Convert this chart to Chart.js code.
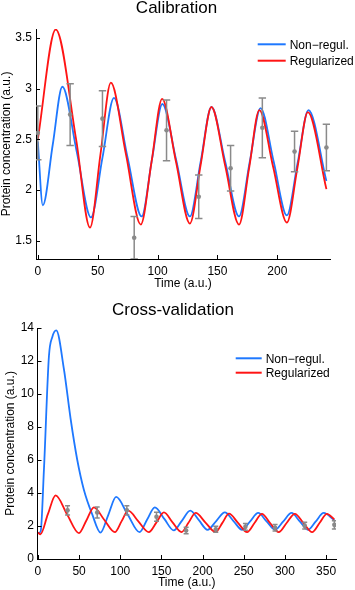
<!DOCTYPE html>
<html>
<head>
<meta charset="utf-8">
<script src="https://cdn.jsdelivr.net/npm/chart.js@4.4.1/dist/chart.umd.min.js"></script>
<style>
  html, body { margin: 0; padding: 0; background: #fff; }
  #wrap { position: relative; width: 355px; height: 590px; }
  canvas { position: absolute; left: 0; }
</style>
</head>
<body>
<div id="wrap">
  <canvas id="calChart" width="355" height="295" style="top:0"></canvas>
  <canvas id="cvChart" width="355" height="295" style="top:295px"></canvas>
</div>
<script>
// ---- Calibration panel ----
const calNonRegT = [0, 4.2, 12.5, 20.5, 32.5, 44.4, 54, 63.6, 75, 86.7, 95.3, 104, 115.5, 127, 136, 145, 156.5, 168, 177, 186, 197, 208, 217, 226, 241];
const calNonReg  = [2.48, 1.85, 2.45, 3.02, 2.38, 1.73, 2.32, 2.91, 2.32, 1.74, 2.3, 2.85, 2.3, 1.74, 2.28, 2.82, 2.28, 1.74, 2.28, 2.81, 2.28, 1.75, 2.27, 2.79, 2.09];
const calRegT = [0, 15, 32, 43.6, 52.3, 61, 73.5, 86, 95, 103.8, 115.4, 127, 136, 145, 156.5, 168, 176.5, 185, 196.5, 208, 216.8, 225.5, 241];
const calReg  = [2.5, 3.585, 2.5, 1.63, 2.35, 3.06, 2.36, 1.66, 2.28, 2.9, 2.28, 1.67, 2.25, 2.82, 2.24, 1.66, 2.22, 2.79, 2.23, 1.68, 2.22, 2.77, 2.01];
const calObsT = [0, 27, 54, 80.5, 107.5, 134.4, 161, 187.5, 214.4, 241];
const calObs  = [2.565, 2.745, 2.705, 1.53, 2.59, 1.935, 2.215, 2.615, 2.38, 2.42];
const calErr  = [0.265, 0.305, 0.275, 0.21, 0.3, 0.215, 0.225, 0.295, 0.2, 0.23];
const calXTicks = [0, 50, 100, 150, 200];
const calYTicks = [1.5, 2, 2.5, 3, 3.5];

// ---- Cross-validation panel ----
const cvNonRegT = [0, 3.3, 7.3, 13.4, 17.5, 22.3, 31.6, 39.7, 47.8, 55.8, 66, 76, 85.5, 95, 109, 123.4, 132.5, 142, 153.5, 165, 175, 185, 195.5, 206, 216.5, 227, 237.5, 248, 257.7, 267.5, 277.7, 288, 298, 308, 318, 328, 337.5, 347, 360];
const cvNonReg  = [1.57, 1.66, 5.4, 12.3, 13.46, 13.86, 11.5, 8.5, 6.0, 4.2, 2.7, 1.6, 2.68, 3.76, 2.7, 1.63, 2.38, 3.13, 2.43, 1.73, 2.33, 2.93, 2.35, 1.77, 2.3, 2.82, 2.3, 1.77, 2.28, 2.79, 2.28, 1.77, 2.28, 2.79, 2.28, 1.77, 2.28, 2.79, 2.35];
const cvRegT = [0, 3, 12, 21.5, 35.5, 49.8, 59, 68, 80.5, 93.5, 101.5, 109.7, 122, 134.7, 144, 153, 163.5, 174.4, 183, 191.5, 203.5, 215.7, 224, 232, 243, 254, 263, 272, 282, 292.5, 302, 312, 322.5, 333, 342, 351, 360];
const cvReg  = [1.6, 1.5, 2.7, 3.86, 2.7, 1.57, 2.35, 3.13, 2.38, 1.63, 2.28, 2.93, 2.28, 1.63, 2.22, 2.82, 2.22, 1.63, 2.21, 2.79, 2.21, 1.63, 2.19, 2.75, 2.19, 1.63, 2.18, 2.74, 2.18, 1.63, 2.18, 2.74, 2.18, 1.63, 2.18, 2.74, 2.4];
const cvObsT = [36, 72, 108, 144, 180, 216, 252, 288, 324, 360];
const cvObs  = [2.95, 2.82, 2.95, 2.56, 1.73, 1.8, 1.95, 1.89, 2.02, 2.07];
const cvErr  = [0.28, 0.33, 0.28, 0.27, 0.2, 0.18, 0.2, 0.2, 0.2, 0.25];
const cvXTicks = [0, 50, 100, 150, 200, 250, 300, 350];
const cvYTicks = [0, 2, 4, 6, 8, 10, 12, 14];

const BLUE = "#1e78ff";
const RED = "#ff1414";
const GREY = "#8a8a8a";
const FONT = '"Liberation Sans", Arial, Helvetica, sans-serif';

Chart.defaults.font.family = FONT;
Chart.defaults.font.size = 12;
Chart.defaults.color = "#000";

function pts(xs, ys) {
  return xs.map((x, i) => ({ x: x, y: ys[i] }));
}

// error bars, inward ticks, title and legend
const panelDecor = {
  id: "panelDecor",
  afterDatasetsDraw(chart, args, opts) {
    const ctx = chart.ctx;
    const xs = chart.scales.x, ys = chart.scales.y;
    const a = chart.chartArea;
    const obs = chart.data.datasets[0].data;
    ctx.save();
    ctx.beginPath();
    ctx.rect(a.left, a.top, a.right - a.left, a.bottom - a.top);
    ctx.clip();
    ctx.strokeStyle = GREY;
    ctx.lineWidth = 1.5;
    opts.err.forEach((e, i) => {
      const px = xs.getPixelForValue(obs[i].x);
      const top = ys.getPixelForValue(obs[i].y + e);
      const bot = ys.getPixelForValue(obs[i].y - e);
      ctx.beginPath();
      ctx.moveTo(px, top); ctx.lineTo(px, bot);
      ctx.moveTo(px - opts.cap, top); ctx.lineTo(px + opts.cap, top);
      ctx.moveTo(px - opts.cap, bot); ctx.lineTo(px + opts.cap, bot);
      ctx.stroke();
    });
    ctx.restore();
  },
  afterDraw(chart, args, opts) {
    const ctx = chart.ctx;
    const xs = chart.scales.x, ys = chart.scales.y;
    const a = chart.chartArea;
    ctx.save();
    // inward tick marks
    ctx.strokeStyle = "#000";
    ctx.lineWidth = 1;
    ctx.beginPath();
    xs.ticks.forEach(t => {
      const px = Math.round(xs.getPixelForValue(t.value)) + 0.5;
      ctx.moveTo(px, a.bottom);
      ctx.lineTo(px, a.bottom - 4);
    });
    ys.ticks.forEach(t => {
      const py = Math.round(ys.getPixelForValue(t.value)) + 0.5;
      ctx.moveTo(a.left, py);
      ctx.lineTo(a.left + 4, py);
    });
    ctx.stroke();
    // title
    ctx.fillStyle = "#000";
    ctx.font = "17px " + FONT;
    ctx.textAlign = "center";
    ctx.textBaseline = "alphabetic";
    ctx.fillText(opts.title, opts.titleX, opts.titleY);
    // legend
    ctx.font = "12px " + FONT;
    ctx.textAlign = "left";
    opts.legend.forEach((di, i) => {
      const ds = chart.data.datasets[di];
      const y = opts.legY + i * opts.legGap;
      ctx.strokeStyle = ds.borderColor;
      ctx.lineWidth = 2;
      ctx.beginPath();
      ctx.moveTo(opts.legX, y);
      ctx.lineTo(opts.legX + opts.legLen, y);
      ctx.stroke();
      ctx.fillText(ds.label, opts.legX + opts.legLen + 4, y + 4.5);
    });
    ctx.restore();
  }
};

function makePanel(id, p) {
  return new Chart(document.getElementById(id), {
    type: "line",
    data: {
      datasets: [
        {
          label: "Data",
          data: pts(p.obsT, p.obs),
          showLine: false,
          pointRadius: 2.3,
          pointBorderWidth: 0,
          pointBackgroundColor: GREY,
          borderColor: GREY
        },
        {
          label: "Regularized",
          data: pts(p.regT, p.reg),
          borderColor: RED,
          borderWidth: 1.8,
          pointRadius: 0,
          cubicInterpolationMode: "monotone",
          fill: false
        },
        {
          label: "Non\u2212regul.",
          data: pts(p.nonRegT, p.nonReg),
          borderColor: BLUE,
          borderWidth: 1.8,
          pointRadius: 0,
          cubicInterpolationMode: "monotone",
          fill: false
        }
      ]
    },
    options: {
      responsive: false,
      animation: false,
      devicePixelRatio: 1,
      events: [],
      layout: { padding: { top: p.padTop, right: p.padRight, left: 0, bottom: 0 } },
      plugins: {
        legend: { display: false },
        tooltip: { enabled: false },
        title: { display: false },
        panelDecor: {
          err: p.err, cap: p.cap,
          title: p.title, titleX: p.titleX, titleY: p.titleY,
          legend: [2, 1], legX: p.legX, legY: p.legY, legGap: p.legGap, legLen: p.legLen
        }
      },
      scales: {
        x: {
          type: "linear",
          min: p.xMin,
          max: p.xMax,
          afterBuildTicks: s => { s.ticks = p.xTicks.map(v => ({ value: v })); },
          afterFit: s => { s.height = p.xAxisH; },
          grid: { drawOnChartArea: false, drawTicks: false },
          border: { display: true, color: "#000", width: 1 },
          ticks: { padding: 5, color: "#000", font: { size: 12 }, callback: v => String(v) },
          title: {
            display: true, text: "Time (a.u.)", color: "#000",
            font: { size: 12, lineHeight: "12px" },
            padding: { top: 0, bottom: p.xTitlePad }
          }
        },
        y: {
          type: "linear",
          min: p.yMin,
          max: p.yMax,
          afterBuildTicks: s => { s.ticks = p.yTicks.map(v => ({ value: v })); },
          afterFit: s => { s.width = p.yAxisW; },
          grid: { drawOnChartArea: false, drawTicks: false },
          border: { display: true, color: "#000", width: 1 },
          ticks: { padding: p.yTickPad, color: "#000", font: { size: 12 }, callback: v => String(v) },
          title: {
            display: true, text: "Protein concentration (a.u.)", color: "#000",
            font: { size: 12, lineHeight: "12px" },
            padding: { top: p.yTitlePad, bottom: 0 }
          }
        }
      }
    },
    plugins: [panelDecor]
  });
}

window.onload = function () {
  makePanel("calChart", {
    nonRegT: calNonRegT, nonReg: calNonReg, regT: calRegT, reg: calReg,
    obsT: calObsT, obs: calObs, err: calErr, cap: 3.7,
    xTicks: calXTicks, yTicks: calYTicks,
    xMin: -1.5, xMax: 244, yMin: 1.32, yMax: 3.59,
    padTop: 29, padRight: 25, xAxisH: 36, yAxisW: 36,
    xTitlePad: 5.2, yTitlePad: 1, yTickPad: 4,
    title: "Calibration", titleX: 176.5, titleY: 13.3,
    legX: 257.7, legY: 44.3, legGap: 16.4, legLen: 28
  });
  makePanel("cvChart", {
    nonRegT: cvNonRegT, nonReg: cvNonReg, regT: cvRegT, reg: cvReg,
    obsT: cvObsT, obs: cvObs, err: cvErr, cap: 2.5,
    xTicks: cvXTicks, yTicks: cvYTicks,
    xMin: -0.5, xMax: 362, yMin: 0, yMax: 14,
    padTop: 33, padRight: 19, xAxisH: 31, yAxisW: 37.5,
    xTitlePad: 1.5, yTitlePad: 4.5, yTickPad: 3.5,
    title: "Cross-validation", titleX: 173, titleY: 20,
    legX: 235.7, legY: 63.3, legGap: 14.4, legLen: 26
  });
};
</script>
</body>
</html>
